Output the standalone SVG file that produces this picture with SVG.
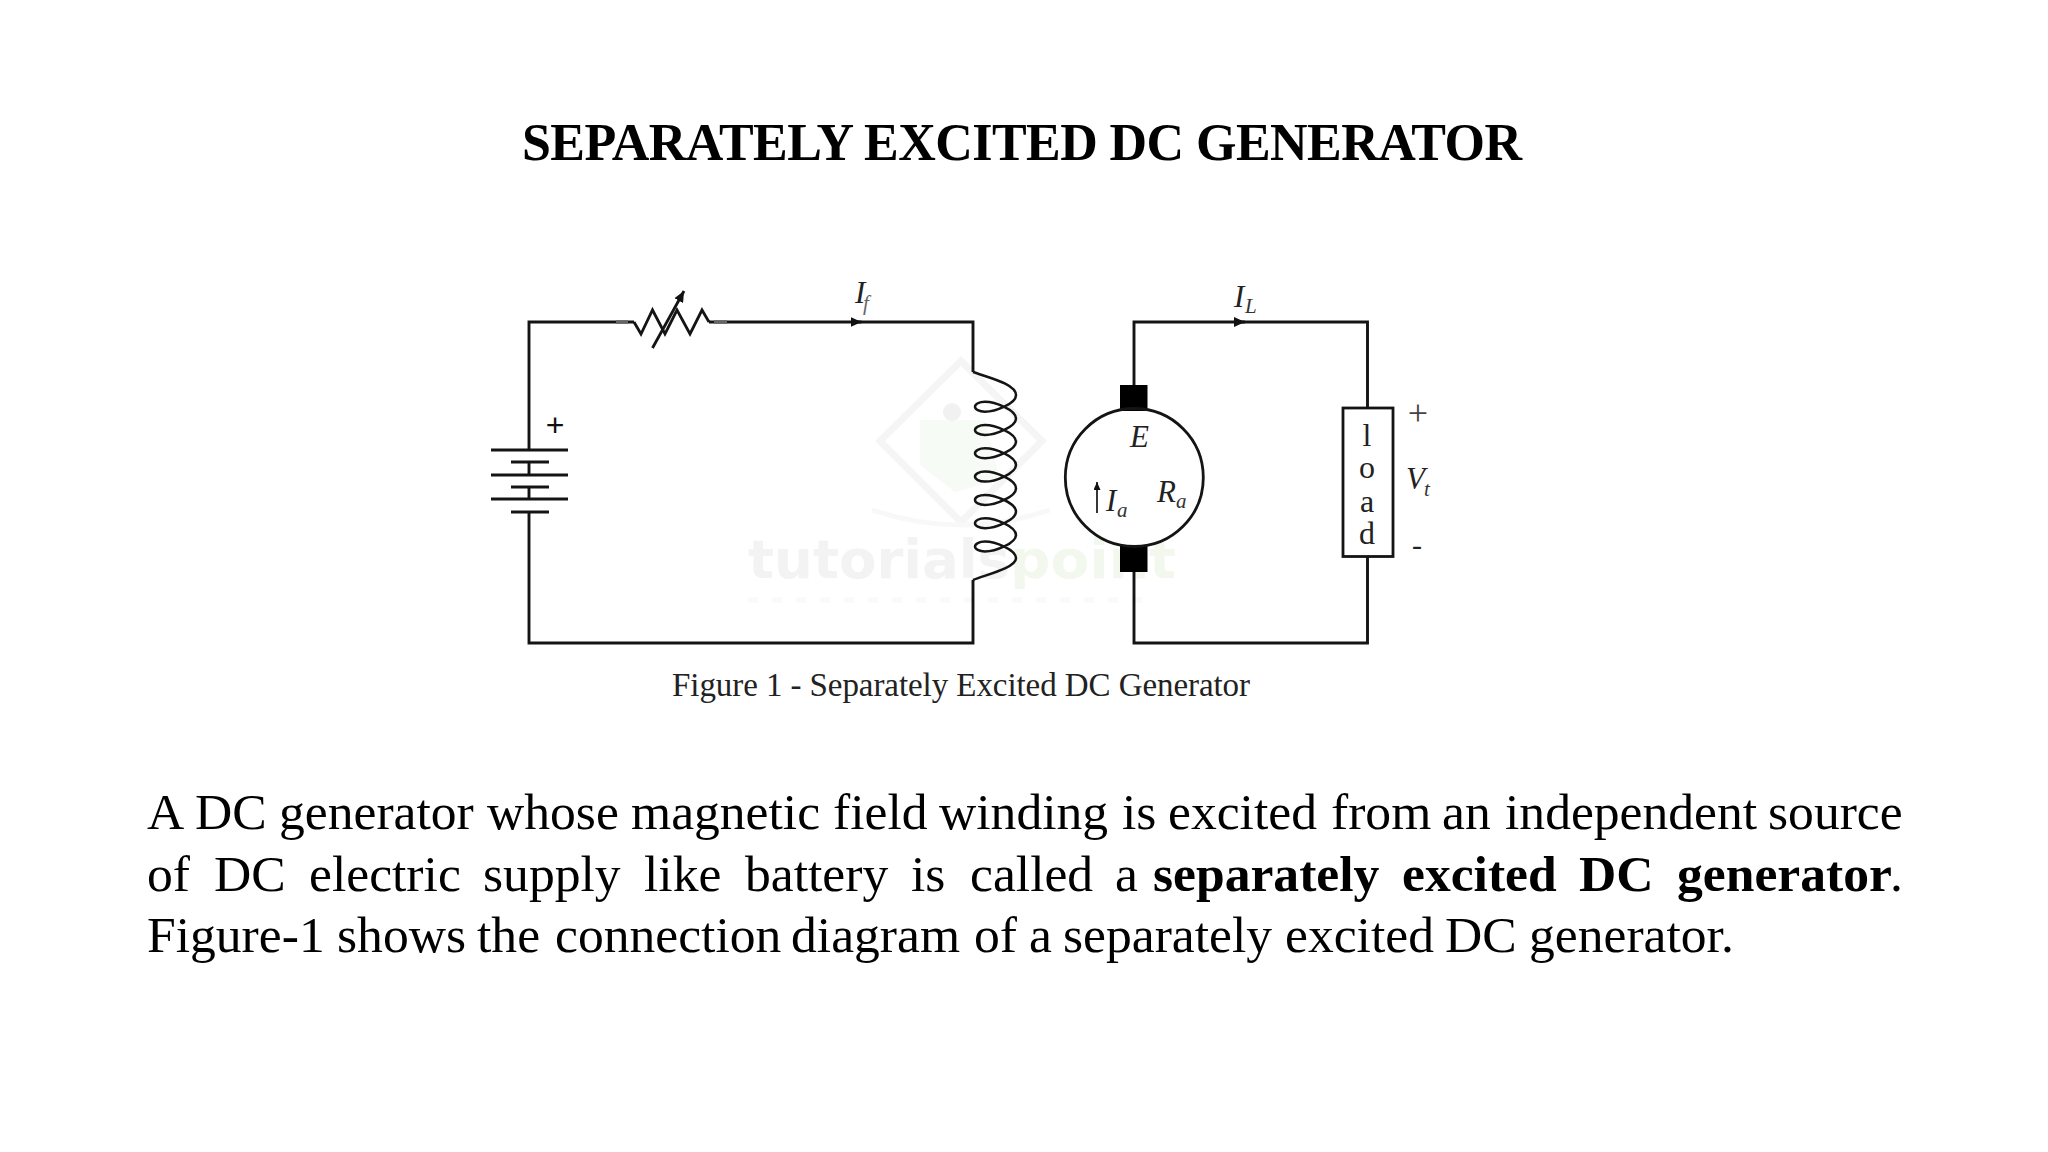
<svg xmlns="http://www.w3.org/2000/svg" width="2048" height="1152" viewBox="0 0 2048 1152">
<style>
text{font-family:"Liberation Serif","Times New Roman",serif;fill:#000}
.body{font-size:51.6px}
.b{font-weight:bold}
.i{font-style:italic;font-size:31px;fill:#222}
.s{font-style:italic;font-size:21px;fill:#333}
.w{fill:none;stroke:#141414;stroke-width:2.9;stroke-linejoin:miter}
.t{fill:none;stroke:#141414;stroke-width:2.8}
.c{fill:none;stroke:#141414;stroke-width:2.5}
.ld{font-size:32px;text-anchor:middle;fill:#222}
.wm{font-family:"DejaVu Sans",sans-serif;font-weight:bold;font-size:53px}
</style>
<defs>
<marker id="ah" markerUnits="userSpaceOnUse" markerWidth="12" markerHeight="10" refX="11" refY="5" orient="auto"><path d="M0 0L11 5L0 10Z" fill="#111"/></marker>
<marker id="ahs" markerUnits="userSpaceOnUse" markerWidth="9" markerHeight="7" refX="8" refY="3.5" orient="auto"><path d="M0 0L8 3.5L0 7Z" fill="#111"/></marker>
</defs>
<rect width="2048" height="1152" fill="#fff"/>
<g id="watermark">
<path d="M961 361L1042 441L961 522L880 441Z" fill="none" stroke="#f5f5f5" stroke-width="7"/>
<path d="M920 420L985 420L1000 480L955 492L920 465Z" fill="#f7fbf5"/>
<circle cx="952" cy="412" r="9" fill="#f1f1f1"/>
<path d="M872 510Q961 540 1050 510" fill="none" stroke="#f8f8f8" stroke-width="5"/>
<text class="wm" x="748" y="578" style="fill:#f3f3f3" textLength="262" lengthAdjust="spacingAndGlyphs">tutorials</text>
<text class="wm" x="1010" y="578" style="fill:#f2f8ee" textLength="166" lengthAdjust="spacingAndGlyphs">point</text>
<path d="M748 600H1150" fill="none" stroke="#fafafa" stroke-width="6" stroke-dasharray="10 14"/>
</g>
<text id="title" class="b" x="522" y="160" font-size="52" textLength="1000" lengthAdjust="spacing">SEPARATELY EXCITED DC GENERATOR</text>
<g id="connectors">
<path class="w" d="M529 450V322H634"/>
<path class="w" d="M709 322H973V372"/>
<path class="w" d="M973 580V643H529V512"/>
<path class="w" d="M1134 385V322H1367.5V408"/>
<path class="w" d="M1367.5 556V643H1134V571"/>
<path class="w" d="M851 322H861.5" marker-end="url(#ah)"/>
<path class="w" d="M1234 322H1245" marker-end="url(#ah)"/>
<path d="M616 322H628M714 322H727" fill="none" stroke="#666" stroke-width="3.6"/>
</g>
<g id="variable-resistor">
<path class="t" d="M634 322L641 334L652.5 310L665 334L677 310L690 334L702 310L709 322"/>
<path class="t" d="M652.5 348L684 291" marker-end="url(#ah)"/>
</g>
<g id="battery">
<path class="w" d="M491 450H568M511 462H549M491 475H568M511 487H549M491 499H568M511 512H549M529 462V475M529 487V499"/>
<text x="555" y="436" font-size="32" text-anchor="middle" style="font-family:'Liberation Sans',sans-serif;fill:#111">+</text>
</g>
<g id="field-coil">
<path class="c" d="M973 372C990 378 1016 384 1016 395.2 c0 8.5 -21 16.5 -31 16.5 c-6 0 -10 -2.5 -10 -5 c0 -2.5 4 -5 10 -5 c10 0 31 8 31 16.8 c0 8.5 -21 16.5 -31 16.5 c-6 0 -10 -2.5 -10 -5 c0 -2.5 4 -5 10 -5 c10 0 31 8 31 16.8 c0 8.5 -21 16.5 -31 16.5 c-6 0 -10 -2.5 -10 -5 c0 -2.5 4 -5 10 -5 c10 0 31 8 31 16.8 c0 8.5 -21 16.5 -31 16.5 c-6 0 -10 -2.5 -10 -5 c0 -2.5 4 -5 10 -5 c10 0 31 8 31 16.8 c0 8.5 -21 16.5 -31 16.5 c-6 0 -10 -2.5 -10 -5 c0 -2.5 4 -5 10 -5 c10 0 31 8 31 16.8 c0 8.5 -21 16.5 -31 16.5 c-6 0 -10 -2.5 -10 -5 c0 -2.5 4 -5 10 -5 c10 0 31 8 31 16.8 c0 8.5 -21 16.5 -31 16.5 c-6 0 -10 -2.5 -10 -5 c0 -2.5 4 -5 10 -5 c10 0 31 8 31 16.8 C1016 568 985 575 973 580"/>
</g>
<g id="armature">
<rect x="1120" y="385" width="27.5" height="26" fill="#000"/>
<rect x="1120" y="545" width="27.5" height="27" fill="#000"/>
<circle cx="1134.3" cy="477.5" r="69" class="t"/>
<text class="i" x="1130" y="447">E</text>
<path d="M1097 513V482" stroke="#222" stroke-width="1.8" fill="none" marker-end="url(#ahs)"/>
<text class="i" x="1106" y="511">I</text><text class="s" x="1117" y="517">a</text>
<text class="i" x="1157" y="502">R</text><text class="s" x="1176" y="508">a</text>
</g>
<g id="load">
<rect class="t" x="1343" y="408" width="50" height="148.5"/>
<text class="ld" x="1367" y="446">l</text>
<text class="ld" x="1367" y="478">o</text>
<text class="ld" x="1367" y="511.5">a</text>
<text class="ld" x="1367" y="544">d</text>
</g>
<g id="labels">
<text class="i" x="855" y="303">I</text><text class="s" x="863" y="310" style="fill:#666">f</text>
<text class="i" x="1234" y="307">I</text><text class="s" x="1245" y="313">L</text>
<text x="1418" y="425" font-size="36" text-anchor="middle" style="fill:#444">+</text>
<text class="i" x="1406" y="489">V</text><text class="s" x="1424" y="496">t</text>
<text x="1417" y="555" font-size="30" text-anchor="middle" style="fill:#222">-</text>
</g>
<text id="caption" x="672" y="696" font-size="33" textLength="578" lengthAdjust="spacing" style="fill:#222">Figure 1 - Separately Excited DC Generator</text>
<g id="paragraph">
<text class="body" y="829"><tspan x="147">A</tspan> <tspan x="195">DC</tspan> <tspan x="279">generator</tspan> <tspan x="487">whose</tspan> <tspan x="631">magnetic</tspan> <tspan x="833">field</tspan> <tspan x="939">winding</tspan> <tspan x="1122">is</tspan> <tspan x="1168">excited</tspan> <tspan x="1331">from</tspan> <tspan x="1442">an</tspan> <tspan x="1505">independent</tspan> <tspan x="1768">source</tspan></text>
<text class="body" y="891"><tspan x="147">of</tspan> <tspan x="214">DC</tspan> <tspan x="309">electric</tspan> <tspan x="483">supply</tspan> <tspan x="644">like</tspan> <tspan x="745">battery</tspan> <tspan x="911">is</tspan> <tspan x="970">called</tspan> <tspan x="1115">a</tspan> <tspan class="b" x="1153">separately</tspan> <tspan class="b" x="1402">excited</tspan> <tspan class="b" x="1579">DC</tspan> <tspan class="b" x="1677">generator</tspan><tspan x="1890">.</tspan></text>
<text class="body" y="952"><tspan x="147">Figure-1</tspan> <tspan x="337">shows</tspan> <tspan x="477">the</tspan> <tspan x="555">connection</tspan> <tspan x="791">diagram</tspan> <tspan x="974">of</tspan> <tspan x="1029">a</tspan> <tspan x="1063">separately</tspan> <tspan x="1285">excited</tspan> <tspan x="1445">DC</tspan> <tspan x="1529">generator.</tspan></text>
</g>
</svg>
